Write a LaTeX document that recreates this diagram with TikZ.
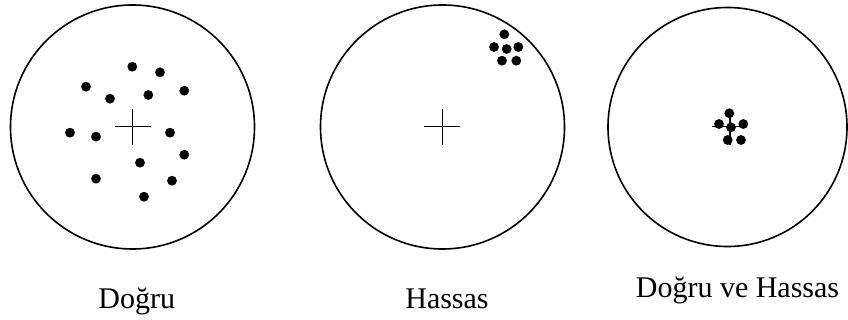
\documentclass[tikz,border=0pt]{standalone}
\usepackage{fontspec}
\setmainfont{Liberation Serif}
\begin{document}
\begin{tikzpicture}[x=1pt,y=-1pt,
  target/.style={draw=black,line width=1.6pt},
  crossline/.style={draw=black,line width=1.3pt},
  shot/.style={fill=black},
  lbl/.style={anchor=base,inner sep=0pt,font=\fontsize{30}{35}\selectfont}]
\useasboundingbox (0,0) rectangle (848,320);
% targets
\draw[target] (132.5,127) circle (122);
\draw[target] (442.5,127) circle (122);
\draw[target] (727.5,127) circle (119.5);
% crosshairs
\draw[crossline] (114.5,126.7) -- (150.5,126.7) (132.3,108.7) -- (132.3,144.7);
\draw[crossline] (424.3,126.7) -- (460.3,126.7) (442.3,108.7) -- (442.3,144.7);
\draw[crossline] (712,126.7) -- (747,126.7) (730,109) -- (730,145.5);
% shots: Dogru
\foreach \p in {(132.3,66.7),(160,72.3),(86,86.7),(184.3,90.7),(110,98.7),(148.3,95),
  (70,132.7),(96,136.7),(170,132.7),(184.3,154.7),(140,162.7),(96,178.7),(172,180.7),(144,196.7)}
  \fill[shot] \p circle (4.9);
% shots: Hassas
\foreach \p in {(504.3,34.3),(494,47),(506.7,49),(518.3,47),(502,60.7),(516.3,60.7)}
  \fill[shot] \p circle (4.9);
% shots: Dogru ve Hassas
\foreach \p in {(731,127.3),(729.3,113.3),(719,124),(743.3,124),(727.7,140),(741,140)}
  \fill[shot] \p circle (4.9);
% labels
\node[lbl] (l1) at (136.7,308) {Doğru};
\node[lbl] (l2) at (447,308) {Hassas};
\node[lbl] (l3) at (737.5,298) {Doğru ve Hassas};
\end{tikzpicture}
\end{document}
